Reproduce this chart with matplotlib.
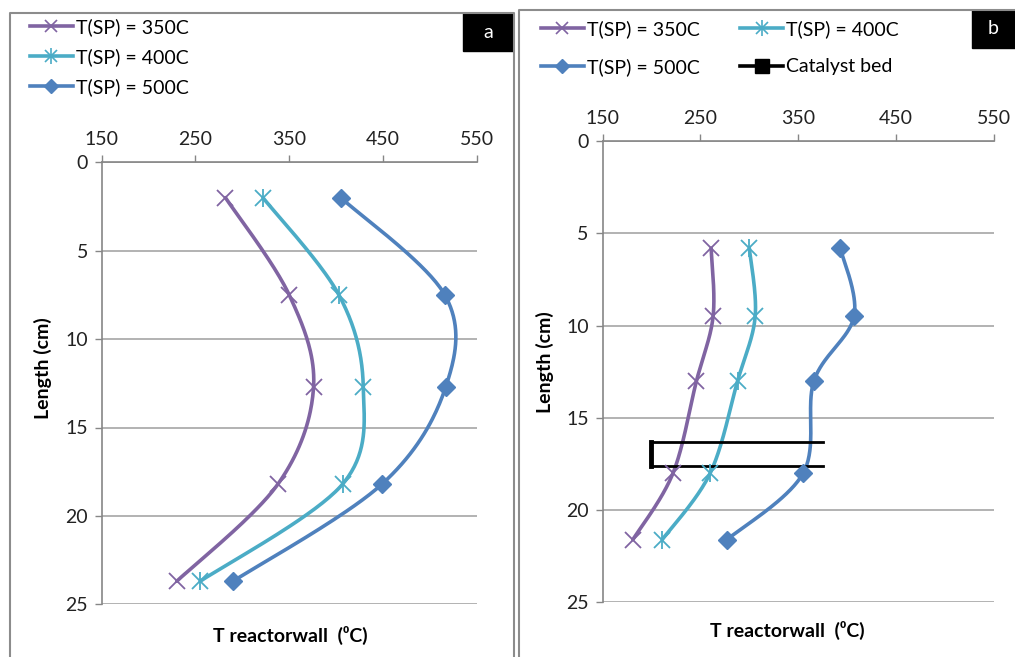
import numpy as np
import matplotlib
matplotlib.use('Agg')
import matplotlib.pyplot as plt
from matplotlib.lines import Line2D
from matplotlib.patches import Rectangle

plt.rcParams['font.family'] = ['Lato', 'DejaVu Sans']

# ---- data ----
labels = ['T(SP) = 350C', 'T(SP) = 400C', 'T(SP) = 500C']

# panel a
len_a = [2.0, 7.5, 12.7, 18.2, 23.7]
a_350 = [282, 350, 376, 338, 230]
a_400 = [322, 403, 429, 407, 255]
a_500 = [405, 516, 517, 449, 290]

# panel b
len_b = [5.8, 9.5, 13.0, 18.0, 21.6]
b_350 = [261, 263, 246, 222, 181]
b_400 = [300, 306, 288, 260, 211]
b_500 = [393, 407, 366, 355, 277]

# catalyst bed outline (T, length)
bed_T = [375, 200, 200, 375]
bed_L = [16.3, 16.3, 17.6, 17.6]

colors = ['#8064A2', '#4BACC6', '#4F81BD']
W, H = 1015, 657
FS = 14


def px(x, y):
    return x / W, 1 - y / H


def smooth(ax, xs, ys, n=40):
    """Excel-like smoothed line (Catmull-Rom bezier in screen space)"""
    pts = ax.transData.transform(np.column_stack([xs, ys]))
    P = np.vstack([pts[0], pts, pts[-1]])
    t = np.linspace(0, 1, n)[:, None]
    segs = []
    for i in range(1, len(P) - 2):
        p0, p1, p2, p3 = P[i - 1], P[i], P[i + 1], P[i + 2]
        c1 = p1 + (p2 - p0) / 6
        c2 = p2 - (p3 - p1) / 6
        segs.append((1 - t) ** 3 * p1 + 3 * (1 - t) ** 2 * t * c1
                    + 3 * (1 - t) * t ** 2 * c2 + t ** 3 * p2)
    curve = ax.transData.inverted().transform(np.vstack(segs))
    return curve[:, 0], curve[:, 1]


def style_axes(ax):
    ax.set_xlim(150, 550)
    ax.set_ylim(25, 0)
    ax.set_xticks([150, 250, 350, 450, 550])
    ax.set_yticks([0, 5, 10, 15, 20, 25])
    ax.xaxis.tick_top()
    ax.tick_params(axis='x', top=True, bottom=False, labeltop=True, labelbottom=False,
                   direction='out', length=5, width=1, color='#868686',
                   labelsize=FS, labelcolor='#222222', pad=5)
    ax.tick_params(axis='y', direction='out', length=5, width=1, color='#868686',
                   labelsize=FS, labelcolor='#222222', pad=5)
    for s in ['right', 'bottom']:
        ax.spines[s].set_visible(False)
    for s in ['left', 'top']:
        ax.spines[s].set_color('#868686')
        ax.spines[s].set_linewidth(1.2)
    ax.yaxis.grid(True, color='#A6A6A6', lw=1.2)
    ax.set_axisbelow(True)


def draw_series(ax, L, T350, T400, T500):
    for T, c in zip([T350, T400, T500], colors):
        sx, sy = smooth(ax, T, L)
        ax.plot(sx, sy, color=c, lw=2.6, solid_capstyle='round', zorder=3)
    ax.plot(T350, L, ls='none', marker='x', ms=11, mew=1.3, color=colors[0], zorder=4)
    ax.plot(T400, L, ls='none', marker='x', ms=11, mew=1.3, color=colors[1], zorder=4)
    ax.plot(T400, L, ls='none', marker='|', ms=13, mew=1.3, color=colors[1], zorder=4)
    ax.plot(T500, L, ls='none', marker='D', ms=9, color=colors[2], zorder=4)


fig = plt.figure(figsize=(W / 100, H / 100), dpi=100)

# panel a
ax1 = fig.add_axes([101.7 / W, 52.7 / H, 375 / W, 442 / H])
style_axes(ax1)
draw_series(ax1, len_a, a_350, a_400, a_500)

# panel b
ax2 = fig.add_axes([602.5 / W, 54.6 / H, 391.5 / W, 461.3 / H])
style_axes(ax2)
draw_series(ax2, len_b, b_350, b_400, b_500)
ax2.plot(bed_T, bed_L, color='black', lw=2, zorder=3)
ax2.plot(bed_T[1:3], bed_L[1:3], color='black', lw=3.5, zorder=3)

# legends
h350 = Line2D([], [], color=colors[0], lw=2.6, marker='x', ms=9, mew=1.2)
h400 = (Line2D([], [], color=colors[1], lw=2.6, marker='x', ms=9, mew=1.2),
        Line2D([], [], color=colors[1], ls='none', marker='|', ms=11, mew=1.2))
h500 = Line2D([], [], color=colors[2], lw=2.6, marker='D', ms=7)
hbed = Line2D([], [], color='black', lw=2.6, marker='s', ms=10)

fig.legend([h350, h400, h500], labels, loc='upper left', bbox_to_anchor=px(30, 18),
           frameon=False, fontsize=FS, handlelength=2.2, handletextpad=0.15,
           labelspacing=0.62, borderpad=0, borderaxespad=0)
# column-wise fill: col 1 = 350, 500 ; col 2 = 400, bed
fig.legend([h350, h500, h400, hbed], [labels[0], labels[2], labels[1], 'Catalyst bed'],
           loc='upper left', bbox_to_anchor=px(541, 20), ncol=2, frameon=False,
           fontsize=FS, handlelength=2.2, handletextpad=0.15, labelspacing=1.05,
           columnspacing=2.1, borderpad=0, borderaxespad=0)

# axis titles
for x, y in [(43, 368), (545, 362)]:
    fig.text(*px(x, y), 'Length (cm)', rotation=90, ha='center', va='center',
             fontsize=FS, fontweight='bold')
for x, y in [(290, 635), (787, 630)]:
    fig.text(*px(x, y), 'T reactorwall  (\u2070C)', ha='center', va='center',
             fontsize=FS, fontweight='bold', family=['Lato', 'DejaVu Sans'])

# panel frames
frame = dict(color='#8C8C8C', lw=1.5)
fig.add_artist(Line2D([10 / W, 10 / W, 514 / W, 514 / W], [0, 1 - 13 / H, 1 - 13 / H, 0], **frame))
fig.add_artist(Line2D([519 / W, 519 / W, 1], [0, 1 - 10 / H, 1 - 10 / H], **frame))

# panel tags
for x0, y0, x1, y1, tag in [(463, 13, 513, 51, 'a'), (972, 10, 1015, 48, 'b')]:
    fig.add_artist(Rectangle(px(x0, y1), (x1 - x0) / W, (y1 - y0) / H,
                             transform=fig.transFigure, color='black'))
    fig.text(*px((x0 + x1) / 2, (y0 + y1) / 2), tag, color='white', fontsize=14,
             ha='center', va='center')

plt.savefig('out.png', dpi=100)
plt.close()
